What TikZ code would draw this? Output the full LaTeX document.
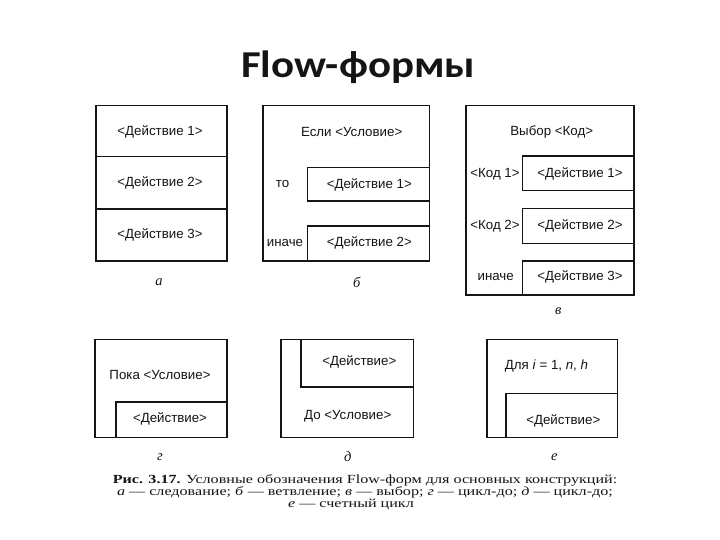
\documentclass[tikz,border=0pt]{standalone}
\usepackage{fontspec}
\setmainfont{Liberation Sans}
\newfontfamily\titlefont[FakeStretch=1.13]{Carlito}
\newfontfamily\capfont[FakeStretch=1.3]{Liberation Serif}
\newfontfamily\letfont{Liberation Serif}
\definecolor{ink}{HTML}{151515}
\definecolor{paper}{HTML}{FFFFFF}

\begin{document}
\begin{tikzpicture}[x=1pt, y=-1pt, line width=1.6pt,
  frame/.style={draw=ink, line width=1.6pt},
  act/.style={text=ink, font=\fontsize{13.3}{15}\selectfont, inner sep=0pt},
  tag/.style={text=ink, font=\letfont\itshape\fontsize{14.5}{16}\selectfont, inner sep=0pt},
  capline/.style={text=ink, font=\capfont\fontsize{12.4}{12.5}\selectfont, inner sep=0pt, anchor=base}]

% Background
\fill[paper] (0,0) rectangle (720,540);
\useasboundingbox (0,0) rectangle (720,540);

% Title
\node[text=ink, font=\titlefont\bfseries\fontsize{38}{40}\selectfont, anchor=base] (title) at (358.3,77.3) {Flow-формы};

% a: sequence
\draw[frame] (95.7,105.7) rectangle (226.7,261);
\draw[frame] (95.7,156.7) -- (226.7,156.7);
\draw[frame] (95.7,209) -- (226.7,209);
\node[act] (seqA) at (160,131.5) {<Действие 1>};
\node[act] (seqB) at (160,182.5) {<Действие 2>};
\node[act] (seqC) at (160,234.5) {<Действие 3>};
\node[tag] (tagA) at (159,282) {а};

% b: branch
\draw[frame] (262.7,105.7) rectangle (429.3,261);
\draw[frame] (429.3,167.7) -- (307.3,167.7) -- (307.3,201) -- (429.3,201);
\draw[frame] (429.3,226) -- (307.3,226) -- (307.3,261);
\node[act] (ifCond) at (351.7,131.7) {Если <Условие>};
\node[act] (ifThen) at (282.5,184.3) {то};
\node[act] (ifElse) at (285,243.3) {иначе};
\node[act] (ifActA) at (369.3,185) {<Действие 1>};
\node[act] (ifActB) at (369.3,243.3) {<Действие 2>};
\node[tag] (tagB) at (356.7,282) {б};

% v: choice
\draw[frame] (465.7,105.7) rectangle (634,295);
\draw[frame] (634,156) -- (522.3,156) -- (522.3,190.7) -- (634,190.7);
\draw[frame] (634,208.7) -- (522.3,208.7) -- (522.3,243.3) -- (634,243.3);
\draw[frame] (634,261) -- (522.3,261) -- (522.3,295);
\node[act] (swKey) at (551.7,132.3) {Выбор <Код>};
\node[act] (swCodeA) at (495,174) {<Код 1>};
\node[act] (swCodeB) at (495,226) {<Код 2>};
\node[act] (swElse) at (495.7,277.3) {иначе};
\node[act] (swActA) at (580,174) {<Действие 1>};
\node[act] (swActB) at (580,226) {<Действие 2>};
\node[act] (swActC) at (580,277.3) {<Действие 3>};
\node[tag] (tagV) at (558.3,311) {в};

% g: while loop
\draw[frame] (95,339.3) rectangle (226.7,437.3);
\draw[frame] (226.7,401.7) -- (115.7,401.7) -- (115.7,437.3);
\node[act] (whCond) at (160,375) {Пока <Условие>};
\node[act] (whAct) at (170,419.3) {<Действие>};
\node[tag] (tagG) at (160,456.7) {г};

% d: do-until loop
\draw[frame] (281,339.3) rectangle (413.3,437.3);
\draw[frame] (300.7,339.3) -- (300.7,386.7) -- (413.3,386.7);
\node[act] (unAct) at (359.3,361.7) {<Действие>};
\node[act] (unCond) at (347.7,416) {До <Условие>};
\node[tag] (tagD) at (347.7,456.7) {д};

% e: counting loop
\draw[frame] (486.7,339.3) rectangle (617.3,437.3);
\draw[frame] (617.3,393.3) -- (505.7,393.3) -- (505.7,437.3);
\node[act] (forHead) at (546.5,366) {Для \textit{i} = 1, \textit{n}, \textit{h}};
\node[act] (forAct) at (563.3,420.7) {<Действие>};
\node[tag] (tagE) at (554.3,457.3) {е};

% Caption
\node[capline] (capA) at (365,483.7) {\textbf{Рис. 3.17.} Условные обозначения Flow-форм для основных конструкций:};
\node[capline] (capB) at (365,495.5) {\textit{а} — следование; \textit{б} — ветвление; \textit{в} — выбор; \textit{г} — цикл-до; \textit{д} — цикл-до;};
\node[capline] (capC) at (351,507.3) {\textit{е} — счетный цикл};

\end{tikzpicture}
\end{document}
